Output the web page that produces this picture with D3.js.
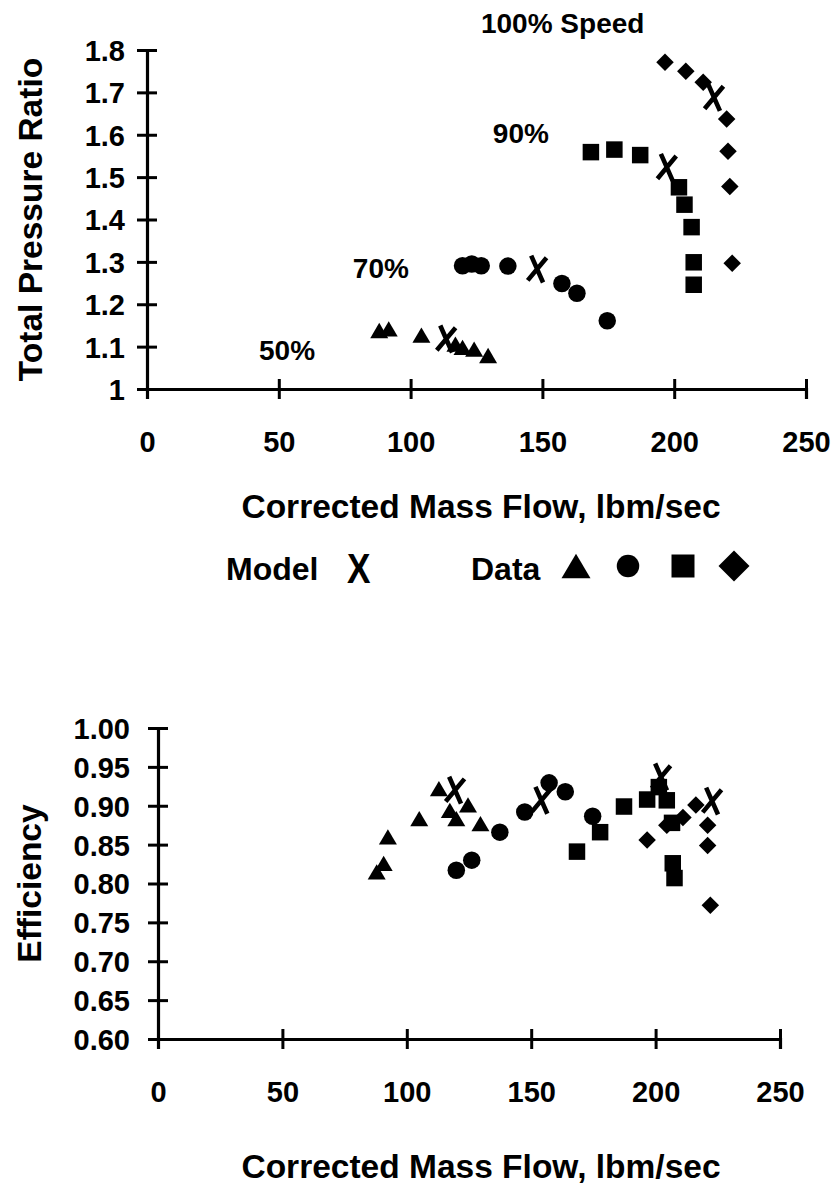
<!DOCTYPE html>
<html>
<head>
<meta charset="utf-8">
<script src="https://cdn.jsdelivr.net/npm/d3@7"></script>
<style>
  html, body { margin: 0; background: #fff; }
  svg { display: block; }
  text { font-family: "Liberation Sans", Arial, Helvetica, sans-serif; font-weight: bold; fill: #000; }
</style>
</head>
<body>
<svg id="chart" width="835" height="1188"></svg>
<script>
// ---- axis ticks ----
const flowTicks = [0, 50, 100, 150, 200, 250];
const prTicks = [1, 1.1, 1.2, 1.3, 1.4, 1.5, 1.6, 1.7, 1.8];
const prTickLabels = ["1", "1.1", "1.2", "1.3", "1.4", "1.5", "1.6", "1.7", "1.8"];
const effTicks = [0.60, 0.65, 0.70, 0.75, 0.80, 0.85, 0.90, 0.95, 1.00];
const effTickLabels = ["0.60", "0.65", "0.70", "0.75", "0.80", "0.85", "0.90", "0.95", "1.00"];

// ---- total pressure ratio vs corrected flow ----
const prFlow50 = [88.1, 91.7, 104.1, 117.0, 119.7, 124.1, 129.4];
const pr50     = [1.138, 1.142, 1.127, 1.106, 1.098, 1.094, 1.079];
const prFlow70 = [119.7, 123.2, 126.8, 136.9, 157.4, 163.1, 174.6];
const pr70     = [1.291, 1.295, 1.291, 1.290, 1.249, 1.226, 1.161];
const prFlow90 = [168.4, 177.3, 187.1, 201.8, 203.9, 206.6, 207.4, 207.4];
const pr90     = [1.559, 1.565, 1.552, 1.476, 1.435, 1.382, 1.299, 1.246];
const prFlow100 = [196.5, 204.4, 211.0, 219.9, 220.4, 221.1, 222.0];
const pr100     = [1.771, 1.750, 1.724, 1.637, 1.561, 1.478, 1.297];
const prModelFlow = [113.5, 148.0, 197.2, 215.1];
const prModel     = [1.118, 1.283, 1.523, 1.688];

// speed line labels
const speedLabels    = ["100% Speed", "90%", "70%", "50%"];
const speedLabelFlow = [126.7, 131.2, 78.1, 42.5];
const speedLabelPR   = [1.840, 1.580, 1.262, 1.068];

// ---- efficiency vs corrected flow ----
const effFlow50 = [87.9, 90.7, 92.4, 105.0, 112.9, 117.3, 119.9, 124.6, 129.6];
const eff50     = [0.815, 0.826, 0.860, 0.8835, 0.922, 0.894, 0.8835, 0.901, 0.877];
const effFlow70 = [119.9, 126.1, 137.4, 147.4, 157.2, 163.7, 174.7];
const eff70     = [0.817, 0.830, 0.866, 0.892, 0.9295, 0.918, 0.8865];
const effFlow90 = [168.4, 177.7, 187.3, 196.6, 201.3, 204.5, 206.6, 206.9, 207.6];
const eff90     = [0.841, 0.866, 0.899, 0.908, 0.924, 0.907, 0.878, 0.826, 0.807];
const effFlow100 = [196.6, 204.5, 211.0, 216.2, 220.9, 220.9, 222.0];
const eff100     = [0.856, 0.875, 0.885, 0.901, 0.875, 0.849, 0.772];
const effModelFlow = [119.4, 154.1, 202.2, 222.7];
const effModel     = [0.920, 0.907, 0.937, 0.906];

// ---- marker shapes (size = overall width in px) ----
const triangle = { draw(ctx, s) { const h = s * 0.85; ctx.moveTo(0, -h / 2); ctx.lineTo(s / 2, h / 2); ctx.lineTo(-s / 2, h / 2); ctx.closePath(); } };
const circle = { draw(ctx, s) { ctx.moveTo(s / 2, 0); ctx.arc(0, 0, s / 2, 0, 2 * Math.PI); } };
const square = { draw(ctx, s) { ctx.rect(-s / 2, -s / 2, s, s); } };
const diamond = { draw(ctx, s) { const r = s / 2; ctx.moveTo(0, -r); ctx.lineTo(r, 0); ctx.lineTo(0, r); ctx.lineTo(-r, 0); ctx.closePath(); } };
// model point: tall stroked "X" (size = height)
const cross = { draw(ctx, s) { const w = s * 0.31, h = s * 0.5; ctx.moveTo(-w, -h); ctx.lineTo(w, h); ctx.moveTo(w, -h); ctx.lineTo(-w, h); } };

const svg = d3.select("#chart");

function drawPanel(cfg) {
  const x = d3.scaleLinear().domain([0, 250]).range(cfg.xRange);
  const y = d3.scaleLinear().domain(cfg.yDomain).range(cfg.yRange);
  const g = svg.append("g");

  // x axis with ticks crossing the line
  const xa = g.append("g").attr("transform", `translate(0,${cfg.yRange[0]})`)
    .call(d3.axisBottom(x).tickValues(flowTicks).tickSizeOuter(0).tickSize(10).tickFormat(d3.format("d")));
  xa.attr("font-family", null).attr("font-size", null);
  xa.select(".domain").attr("stroke", "#000").attr("stroke-width", 3.2);
  xa.selectAll(".tick line").attr("y1", -10).attr("y2", 10).attr("stroke", "#000").attr("stroke-width", 3);
  xa.selectAll(".tick text").attr("y", 63).attr("dy", null)
    .style("font-size", "29px").attr("fill", "#000");

  // y axis
  const ya = g.append("g").attr("transform", `translate(${cfg.xRange[0]},0)`)
    .call(d3.axisLeft(y).tickValues(cfg.yTicks).tickSizeOuter(0).tickSize(10)
      .tickFormat((d, i) => cfg.yLabels[i]));
  ya.attr("font-family", null).attr("font-size", null);
  ya.select(".domain").attr("stroke", "#000").attr("stroke-width", 3.2);
  ya.selectAll(".tick line").attr("x1", -10).attr("x2", 10).attr("stroke", "#000").attr("stroke-width", 3);
  ya.selectAll(".tick text").attr("x", cfg.yLabelOffset).attr("dy", "0.36em")
    .style("font-size", "29px").attr("fill", "#000");

  // axis titles
  g.append("text").attr("x", cfg.xTitlePos[0]).attr("y", cfg.xTitlePos[1])
    .attr("text-anchor", "middle").style("font-size", "33.5px")
    .text("Corrected Mass Flow, lbm/sec");
  g.append("text")
    .attr("transform", `translate(${cfg.yTitleX},${(cfg.yRange[0] + cfg.yRange[1]) / 2}) rotate(-90)`)
    .attr("text-anchor", "middle").style("font-size", "33.5px")
    .text(cfg.yTitle);

  // data markers
  const sym = d3.symbol();
  cfg.series.forEach(s => {
    g.append("g").selectAll("path").data(s.xs)
      .join("path")
      .attr("transform", (d, i) => `translate(${x(d)},${y(s.ys[i])})`)
      .attr("d", sym.type(s.type).size(s.size)())
      .attr("fill", "#000");
  });

  // model points
  g.append("g").selectAll("path").data(cfg.model.xs)
    .join("path")
    .attr("transform", (d, i) => `translate(${x(d)},${y(cfg.model.ys[i])}) rotate(8)`)
    .attr("d", sym.type(cross).size(25)())
    .attr("fill", "none").attr("stroke", "#000").attr("stroke-width", 4.6)
    .attr("stroke-linecap", "butt");

  return { x, y, g };
}

// upper panel: total pressure ratio
const upper = drawPanel({
  xRange: [147, 806],
  yDomain: [1, 1.8], yRange: [389, 50],
  yTicks: prTicks, yLabels: prTickLabels, yLabelOffset: -22,
  xTitlePos: [481, 518], yTitleX: 42, yTitle: "Total Pressure Ratio",
  series: [
    { xs: prFlow50, ys: pr50, type: triangle, size: 18 },
    { xs: prFlow70, ys: pr70, type: circle, size: 17.5 },
    { xs: prFlow90, ys: pr90, type: square, size: 16.5 },
    { xs: prFlow100, ys: pr100, type: diamond, size: 17.5 }
  ],
  model: { xs: prModelFlow, ys: prModel }
});

// speed line labels
upper.g.append("g").selectAll("text").data(speedLabels)
  .join("text")
  .attr("x", (d, i) => upper.x(speedLabelFlow[i]))
  .attr("y", (d, i) => upper.y(speedLabelPR[i]))
  .style("font-size", "28px")
  .text(d => d);

// legend
const legend = svg.append("g");
legend.append("text").attr("x", 226).attr("y", 580).style("font-size", "32px").text("Model");
legend.append("text").attr("transform", "translate(347,583) scale(1.1,1.32)")
  .style("font-size", "32px").text("X");
legend.append("text").attr("x", 471).attr("y", 580).style("font-size", "32px").text("Data");
const legendShapes = [triangle, circle, square, diamond];
const legendSizes = [29, 22.5, 23, 31];
const legendX = [576, 628, 683, 734];
legend.selectAll("path").data(legendShapes)
  .join("path")
  .attr("transform", (d, i) => `translate(${legendX[i]},566)`)
  .attr("d", (d, i) => d3.symbol().type(d).size(legendSizes[i])())
  .attr("fill", "#000");

// lower panel: efficiency
drawPanel({
  xRange: [158, 780],
  yDomain: [0.6, 1.0], yRange: [1039, 728],
  yTicks: effTicks, yLabels: effTickLabels, yLabelOffset: -28,
  xTitlePos: [481, 1178], yTitleX: 41, yTitle: "Efficiency",
  series: [
    { xs: effFlow50, ys: eff50, type: triangle, size: 18 },
    { xs: effFlow70, ys: eff70, type: circle, size: 17.5 },
    { xs: effFlow90, ys: eff90, type: square, size: 16.5 },
    { xs: effFlow100, ys: eff100, type: diamond, size: 17.5 }
  ],
  model: { xs: effModelFlow, ys: effModel }
});
</script>
</body>
</html>
